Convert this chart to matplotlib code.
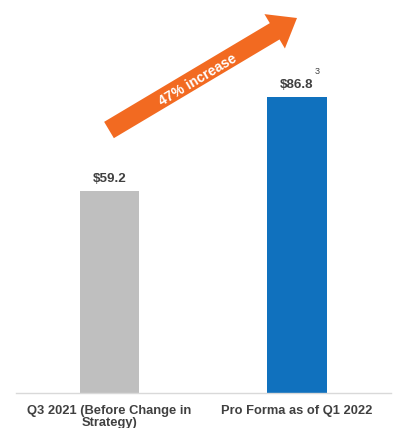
import matplotlib.pyplot as plt
from matplotlib.patches import FancyArrow
from matplotlib.transforms import Affine2D

plt.rcParams['font.family'] = ['Liberation Sans', 'DejaVu Sans']

# data
categories = ['Q3 2021 (Before Change in\nStrategy)', 'Pro Forma as of Q1 2022']
values = [59.2, 86.8]
value_labels = ['$59.2', '$86.8']
bar_colors = ['#BFBFBF', '#1071BE']
increase_label = '47% increase'

W, H = 397, 428
fig = plt.figure(figsize=(W / 100, H / 100), dpi=100)
ax = fig.add_axes([15.75 / W, 35 / H, 375 / W, 393 / H])

x = range(len(values))
bars = ax.bar(x, values, width=0.317, color=bar_colors, zorder=2)
ax.set_xlim(-0.5, 1.5)
ax.set_ylim(0, 115.2)

for rect, lab in zip(bars, value_labels):
    ax.annotate(lab, (rect.get_x() + rect.get_width() / 2, rect.get_height()),
                xytext=(0, 4), textcoords='offset points', ha='center', va='bottom',
                fontsize=9.6, fontweight='bold', color='#404040')

# footnote marker on the second label
ax.annotate('3', (bars[1].get_x() + bars[1].get_width() / 2, bars[1].get_height()),
            xytext=(13, 15), textcoords='offset points', ha='left', va='bottom',
            fontsize=6.5, color='#404040')

ax.set_xticks(list(x))
ax.set_xticklabels(categories, fontsize=9.3, fontweight='bold', color='#404040',
                   linespacing=1.05)
ax.tick_params(axis='x', length=0, pad=8.5)
ax.set_yticks([])
for side in ['left', 'right', 'top']:
    ax.spines[side].set_visible(False)
ax.spines['bottom'].set_color('#D9D9D9')
ax.spines['bottom'].set_linewidth(1)

# arrow in pixel coords (y from top)
px = Affine2D().scale(1, -1).translate(0, H)
x0, y0 = 109, 130
x1, y1 = 297, 18
arr = FancyArrow(x0, y0, x1 - x0, y1 - y0, width=19, head_width=40, head_length=26,
                 length_includes_head=True, color='#F26A21', lw=0,
                 transform=px, figure=fig)
fig.patches.append(arr)
fig.text(198 / W, 1 - 80 / H, increase_label, rotation=30.8, rotation_mode='anchor',
         ha='center', va='center', fontsize=10, fontweight='bold', color='white')

fig.savefig('out.png', dpi=100)
